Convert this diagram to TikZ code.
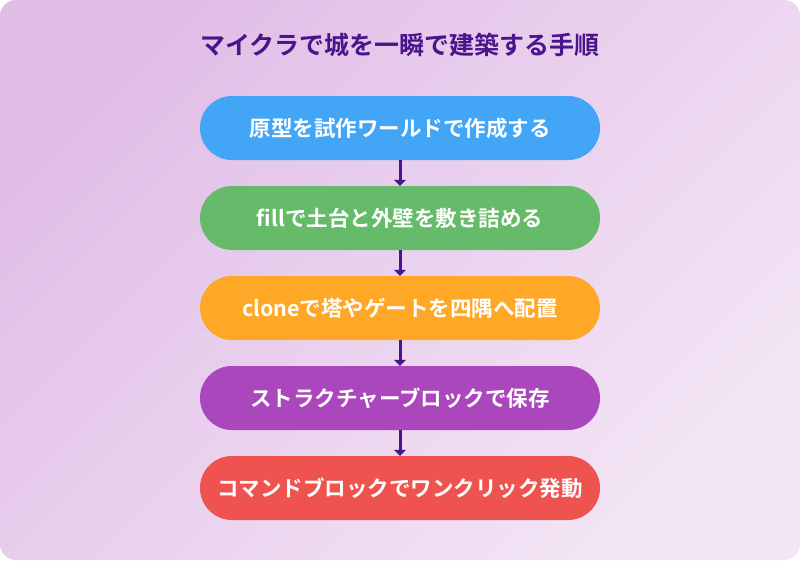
\documentclass[tikz,border=0pt]{standalone}
\usepackage{fontspec}
\newfontfamily\cjk{Noto Sans CJK JP}[BoldFont={Noto Sans CJK JP Bold}]
\usetikzlibrary{arrows.meta}
\definecolor{bgA}{HTML}{F3E5F5}
\definecolor{bgB}{HTML}{E1BEE7}
\definecolor{ttl}{HTML}{4A148C}
\definecolor{cA}{HTML}{42A5F5}
\definecolor{cB}{HTML}{66BB6A}
\definecolor{cC}{HTML}{FFA726}
\definecolor{cD}{HTML}{AB47BC}
\definecolor{cE}{HTML}{EF5350}
\begin{document}
\begin{tikzpicture}[x=1pt,y=-1pt,
  stepbox/.style={rounded corners=32pt,minimum width=400pt,minimum height=64pt,inner sep=0,text=white,font=\cjk\bfseries\fontsize{21.5}{24}\selectfont},
  arr/.style={draw=ttl,line width=3pt,-{Triangle[width=12pt,length=6pt]}}]
\useasboundingbox (0,0) rectangle (800,560);
\shade[left color=bgA,right color=bgB,rounded corners=16pt,shading angle=225] (0,0) rectangle (800,560);
\node[text=ttl,font=\cjk\bfseries\fontsize{25}{28}\selectfont] (t) at (400,45) {マイクラで城を一瞬で建築する手順};
\node[stepbox,fill=cA] (a) at (400,128) {原型を試作ワールドで作成する};
\node[stepbox,fill=cB] (b) at (400,218) {fillで土台と外壁を敷き詰める};
\node[stepbox,fill=cC] (c) at (400,308) {cloneで塔やゲートを四隅へ配置};
\node[stepbox,fill=cD] (d) at (400,398) {ストラクチャーブロックで保存};
\node[stepbox,fill=cE] (e) at (400,488) {コマンドブロックでワンクリック発動};
\draw[arr] (a) -- (b);
\draw[arr] (b) -- (c);
\draw[arr] (c) -- (d);
\draw[arr] (d) -- (e);
\end{tikzpicture}
\end{document}
